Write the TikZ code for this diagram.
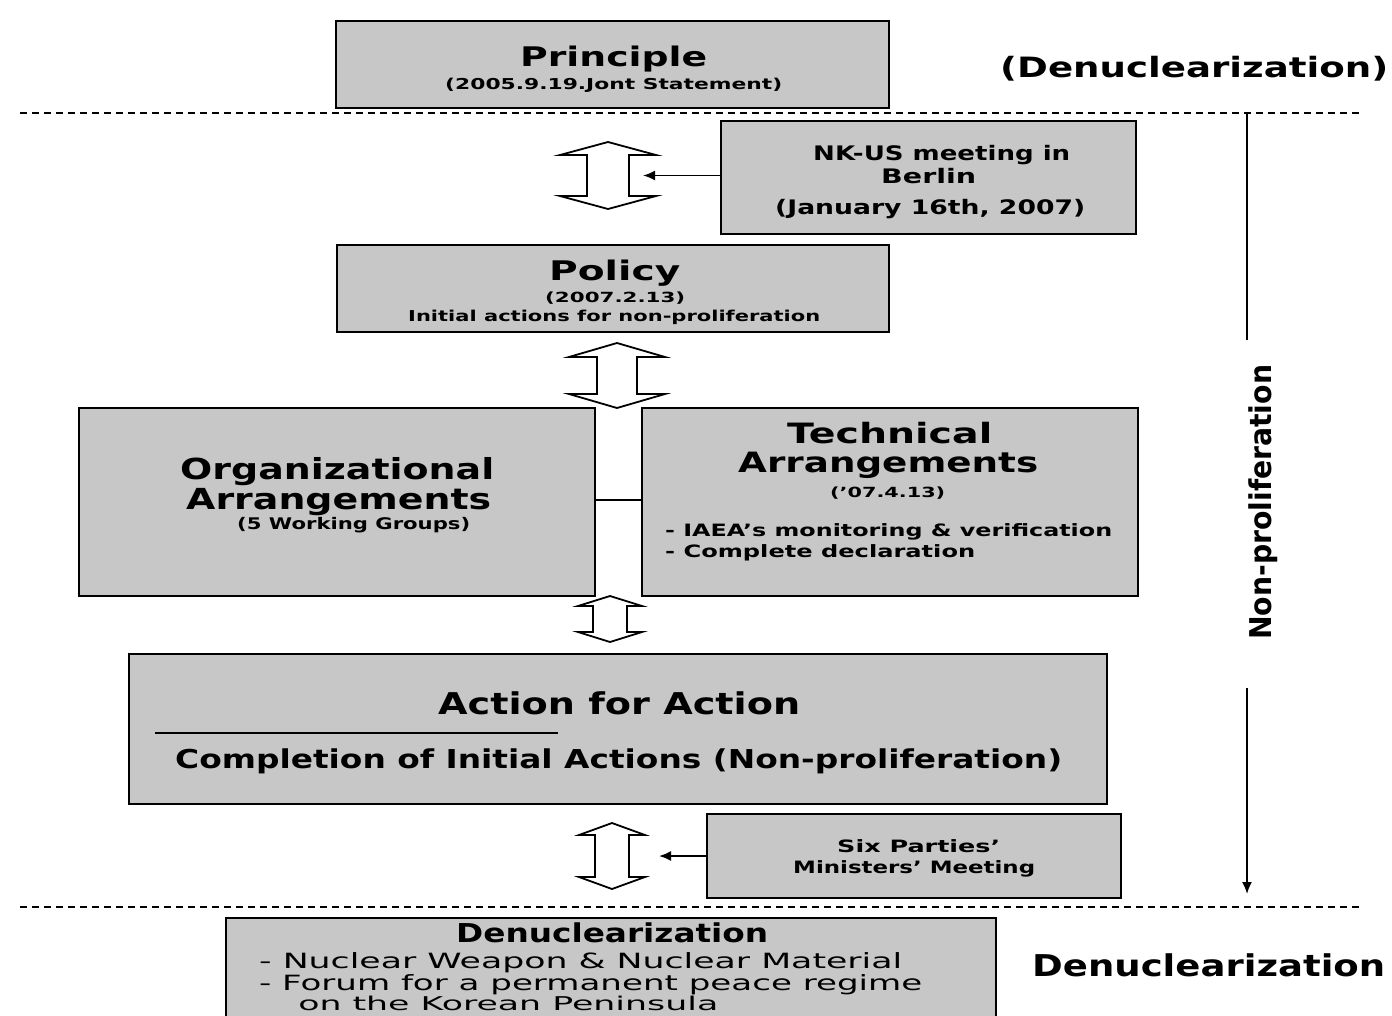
\documentclass[tikz,border=0pt]{standalone}
\usepackage{fontspec}
\setmainfont{DejaVu Sans}
\usetikzlibrary{arrows.meta}
\newcommand{\fw}[2]{\resizebox{#1pt}{\height}{#2}}
\newcommand{\fs}[1]{\fontsize{#1}{#1}\selectfont}
\newcommand{\dblarrow}[7]{% name, cx, ytop, ybot, headhalf, shafthalf, headlen
  \draw[blockarrow] (#2,#3) -- ({#2+#5},{#3+#7}) -- ({#2+#6},{#3+#7}) -- ({#2+#6},{#4-#7})
    -- ({#2+#5},{#4-#7}) -- (#2,#4) -- ({#2-#5},{#4-#7}) -- ({#2-#6},{#4-#7})
    -- ({#2-#6},{#3+#7}) -- ({#2-#5},{#3+#7}) -- cycle;
  \coordinate (#1) at ({#2+#6},{(#3+#4)/2});}
\begin{document}
\begin{tikzpicture}[x=1pt,y=-1pt,
  box/.style={draw=black, line width=2.2pt, fill=black!22, inner sep=0pt, anchor=north west},
  txt/.style={inner sep=0pt, anchor=base west},
  blockarrow/.style={draw=black, line width=1.8pt, fill=white, line join=miter},
  sep/.style={draw=black, line width=1.6pt, dash pattern=on 7pt off 5pt},
  conn/.style={draw=black, line width=1.8pt, -{Latex[length=12pt,width=10pt]}},
  plain/.style={draw=black, line width=1.8pt}]
\useasboundingbox (0,0) rectangle (1392,1015);
\fill[white] (0,0) rectangle (1392,1015);

% separators
\coordinate (d1l) at (20,113); \coordinate (d1r) at (1362,113);
\coordinate (d2l) at (20,907); \coordinate (d2r) at (1362,907);
\draw[sep] (d1l) -- (d1r);
\draw[sep] (d2l) -- (d2r);

% boxes
\node[box, minimum width=553pt, minimum height=87pt] (principle) at (335,20) {};
\node[box, minimum width=415pt, minimum height=113pt] (nkus) at (720,120) {};
\node[box, minimum width=552pt, minimum height=87pt] (policy) at (336,244) {};
\node[box, minimum width=516pt, minimum height=188pt] (org) at (78,407) {};
\node[box, minimum width=496pt, minimum height=188pt] (tech) at (641,407) {};
\node[box, minimum width=978pt, minimum height=150pt] (action) at (128,653) {};
\node[box, minimum width=414pt, minimum height=84pt] (six) at (706,813) {};
\node[box, minimum width=770pt, minimum height=120pt] (denuc) at (225,917) {};

% block arrows
\dblarrow{a1}{608}{142}{209}{48}{21}{13}
\dblarrow{a2}{617}{343}{408}{48}{20}{14}
\dblarrow{a3}{610}{596}{642}{32}{17}{10}
\dblarrow{a4}{612}{823}{889}{33}{17}{12}

% connectors
\coordinate (a1t) at ([xshift=14pt]a1);
\coordinate (a4t) at ([xshift=30pt]a4);
\draw[conn] (nkus.west |- a1t) -- (a1t);
\draw[conn] (six.west |- a4t) -- (a4t);
\draw[plain] (org.east |- 0,500) -- (tech.west |- 0,500);
\draw[plain] (155,733) -- (558,733);

% right progress arrow
\coordinate (v1) at (1247,114); \coordinate (v2) at (1247,340);
\coordinate (v3) at (1247,688); \coordinate (v4) at (1247,894);
\draw[plain] (v1) -- (v2);
\draw[conn] (v3) -- (v4);
\node[txt, rotate=90] (nonp) at (1271,640) {\fw{275}{\fs{30}\bfseries Non-proliferation}};

% texts
\node[txt] (t1) at (520,66) {\fw{187}{\fs{27}\bfseries Principle}};
\node[txt] (t2) at (445,89) {\fw{337}{\fs{15}\bfseries (2005.9.19.Jont Statement)}};
\node[txt] (t3) at (1000,77) {\fw{388}{\fs{28}\bfseries (Denuclearization)}};

\node[txt] (t4) at (813,160) {\fw{257}{\fs{20}\bfseries NK-US meeting in}};
\node[txt] (t5) at (881,183) {\fw{95}{\fs{20}\bfseries Berlin}};
\node[txt] (t6) at (775,214) {\fw{310}{\fs{20}\bfseries (January 16th, 2007)}};

\node[txt] (t7) at (549,280) {\fw{131}{\fs{27}\bfseries Policy}};
\node[txt] (t8) at (545,302) {\fw{140}{\fs{14}\bfseries (2007.2.13)}};
\node[txt] (t9) at (408,321) {\fw{412}{\fs{15}\bfseries Initial actions for non-proliferation}};

\node[txt] (t10) at (180,479) {\fw{314}{\fs{29}\bfseries Organizational}};
\node[txt] (t11) at (186,509) {\fw{305}{\fs{29}\bfseries Arrangements}};
\node[txt] (t12) at (237,529) {\fw{233}{\fs{16}\bfseries (5 Working Groups)}};

\node[txt] (t13) at (787,443) {\fw{205}{\fs{28}\bfseries Technical}};
\node[txt] (t14) at (738,472) {\fw{300}{\fs{28}\bfseries Arrangements}};
\node[txt] (t15) at (830,497) {\fw{115}{\fs{14}\bfseries ('07.4.13)}};
\node[txt] (t16) at (665,536) {\fw{447}{\fs{17}\bfseries - IAEA's monitoring \& verification}};
\node[txt] (t17) at (665,557) {\fw{310}{\fs{17}\bfseries - Complete declaration}};

\node[txt] (t18) at (438,714) {\fw{362}{\fs{30}\bfseries Action for Action}};
\node[txt] (t19) at (175,768) {\fw{887}{\fs{26}\bfseries Completion of Initial Actions (Non-proliferation)}};

\node[txt] (t20) at (837,852) {\fw{163}{\fs{17}\bfseries Six Parties'}};
\node[txt] (t21) at (793,873) {\fw{242}{\fs{17}\bfseries Ministers' Meeting}};

\node[txt] (t22) at (456,942) {\fw{312}{\fs{26}\bfseries Denuclearization}};
\node[txt] (t23) at (248,968) {\fw{654}{\fs{21} - Nuclear Weapon \& Nuclear Material}};
\node[txt] (t24) at (248,990) {\fw{674}{\fs{21} - Forum for a permanent peace regime}};
\node[txt] (t25) at (287,1010) {\fw{431}{\fs{19} on the Korean Peninsula}};

\node[txt] (t26) at (1032,976) {\fw{353}{\fs{30}\bfseries Denuclearization}};
\end{tikzpicture}
\end{document}
